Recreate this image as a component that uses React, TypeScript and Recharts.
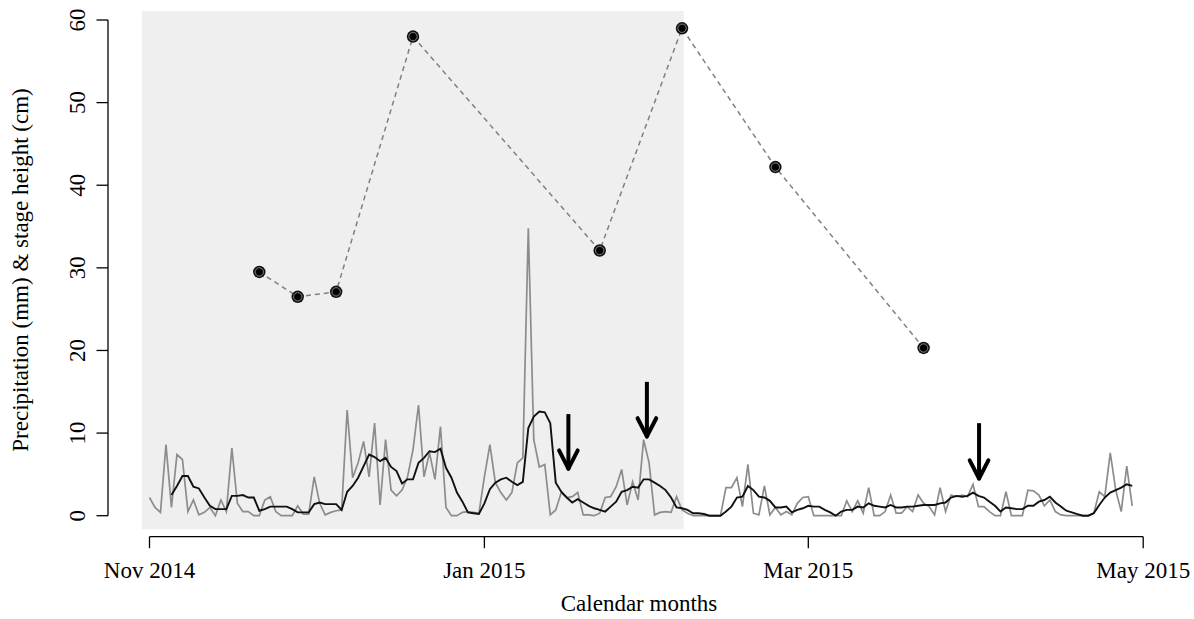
import { ComposedChart, Line, XAxis, YAxis, ReferenceArea, ReferenceLine } from 'recharts'

const FONT = '"Liberation Serif", "Times New Roman", serif'

// daily precipitation (mm), one value per day from 1 Nov 2014
const precipitation = [
  2.2, 1.0, 0.4, 8.6, 1.0, 7.4, 6.8, 0.5, 1.9, 0.1,
  0.4, 1.0, 0, 1.9, 0.5, 8.2, 1.5, 0.5, 0.5, 0,
  0, 1.9, 2.3, 0.5, 0, 0, 0, 1.2, 0.2, 0.2,
  4.7, 1.5, 0.1, 0.4, 0.6, 0.7, 12.8, 4.6, 6.4, 9.0,
  4.7, 11.2, 1.3, 9.2, 3.1, 2.4, 3.1, 4.7, 8.0, 13.4,
  4.7, 7.6, 4.4, 10.8, 1.0, 0, 0, 0.4, 0.5, 0.4,
  0.3, 4.7, 8.6, 4.0, 2.8, 1.9, 2.8, 6.4, 7.0, 34.8,
  9.2, 5.9, 6.2, 0.1, 0.7, 2.8, 2.2, 2.3, 2.8, 0.1,
  0.1, 0, 0.3, 2.2, 2.3, 3.5, 5.6, 1.3, 4.1, 1.9,
  9.2, 6.4, 0.1, 0.4, 0.5, 0.4, 2.3, 0.7, 0.3, 0,
  0, 0, 0, 0, 0, 3.4, 3.4, 4.6, 1.1, 6.2,
  0.3, 0.1, 3.6, 0.1, 1.0, 0.1, 0.5, 0.1, 1.5, 2.2,
  2.3, 0, 0, 0, 0, 0, 0, 1.8, 0.5, 1.8,
  0.3, 3.4, 0, 0, 0.5, 2.5, 0.3, 0.3, 1.1, 0.5,
  2.5, 1.5, 1.1, 0.1, 3.4, 0.5, 2.5, 2.3, 2.5, 2.3,
  3.8, 1.1, 1.1, 0.5, 0, 0, 2.9, 0, 0, 0,
  3.1, 3.0, 2.5, 1.2, 1.9, 0.5, 0.1, 0, 0, 0,
  0, 0, 0.3, 2.9, 2.3, 7.6, 3.1, 0.5, 6.0, 1.2,
]

// smoothed precipitation (black line)
const runningMean = [
  null, null, null, null, 2.5, 3.6, 4.8, 4.8, 3.5, 3.3,
  2.2, 1.2, 0.8, 0.8, 0.8, 2.4, 2.4, 2.5, 2.2, 2.2,
  0.6, 0.8, 1.1, 1.1, 1.1, 1.1, 0.8, 0.4, 0.4, 0.4,
  1.4, 1.6, 1.4, 1.4, 1.4, 0.7, 2.9, 3.6, 4.6, 6.0,
  7.4, 7.1, 6.6, 7.0, 5.9, 5.4, 3.9, 4.4, 4.4, 6.4,
  7.0, 7.8, 7.7, 8.1, 5.8, 4.6, 2.8, 1.7, 0.4, 0.3,
  0.2, 1.5, 3.2, 4.0, 4.4, 4.6, 4.1, 3.7, 4.1, 10.6,
  12.0, 12.6, 12.5, 11.2, 4.0, 2.9, 2.2, 1.6, 2.0, 1.6,
  1.2, 0.9, 0.7, 0.5, 1.1, 1.7, 2.9, 3.1, 3.5, 3.4,
  4.4, 4.4, 4.0, 3.6, 3.1, 2.2, 1.0, 0.9, 0.7, 0.3,
  0.3, 0.2, 0, 0, 0, 0.5, 1.1, 2.2, 2.3, 3.6,
  3.1, 2.3, 2.2, 1.8, 1.0, 1.0, 1.1, 0.4, 0.7, 0.9,
  1.2, 1.1, 1.1, 0.7, 0.4, 0, 0.5, 0.7, 0.7, 1.1,
  1.0, 1.5, 1.2, 1.1, 1.0, 1.3, 1.0, 1.0, 1.1, 1.1,
  1.2, 1.3, 1.3, 1.3, 1.5, 1.6, 2.2, 2.4, 2.3, 2.4,
  2.8, 2.4, 2.2, 1.7, 1.2, 0.5, 1.0, 0.9, 0.8, 0.8,
  1.2, 1.2, 1.7, 1.9, 2.3, 1.6, 1.1, 0.6, 0.4, 0.2,
  0, 0, 0.3, 1.3, 2.2, 2.8, 3.1, 3.4, 3.8, 3.6,
]

// stage height (cm) measurements
const stageDays = [20, 27, 34, 48, 82, 97, 114, 141]
const stageHeight = [29.5, 26.5, 27.1, 58.0, 32.1, 59.0, 42.2, 20.3]

const monthTicks = [0, 61, 120, 181]
const monthLabels = ['Nov 2014', 'Jan 2015', 'Mar 2015', 'May 2015']
const yTicks = [0, 10, 20, 30, 40, 50, 60]

// arrows marking events
const arrowDays = [76.3, 90.6, 151.1]
const arrowTops = [12.3, 16.2, 11.2]
const arrowTips = [5.7, 9.6, 4.5]

// shaded wet season block
const shadeDays = [-1.4, 97.3]
const shadeLevels = [-1.65, 61.1]

const dailyData = precipitation.map((p, i) => ({ day: i, precip: p, mean: runningMean[i] }))
const stageData = stageDays.map((d, i) => ({ day: d, stage: stageHeight[i] }))

const X_AXIS_Y = 536.7
const Y_AXIS_X = 108

function XTick(props: any) {
  const { x, payload } = props
  const label = monthLabels[monthTicks.indexOf(payload.value)]
  return (
    <g>
      <line x1={x} x2={x} y1={X_AXIS_Y} y2={X_AXIS_Y + 11.5} stroke="#000" strokeWidth={1.3} />
      <text x={x} y={578} textAnchor="middle" fontFamily={FONT} fontSize={23} fill="#000">
        {label}
      </text>
    </g>
  )
}

function YTick(props: any) {
  const { y, payload } = props
  return (
    <g>
      <line x1={Y_AXIS_X - 11.5} x2={Y_AXIS_X} y1={y} y2={y} stroke="#000" strokeWidth={1.3} />
      <text transform={`translate(85, ${y}) rotate(-90)`} textAnchor="middle" fontFamily={FONT} fontSize={23} fill="#000">
        {payload.value}
      </text>
    </g>
  )
}

function XTitle() {
  return (
    <text x={639} y={611} textAnchor="middle" fontFamily={FONT} fontSize={23} fill="#000">
      Calendar months
    </text>
  )
}

function YTitle() {
  return (
    <text transform="translate(28, 270) rotate(-90)" textAnchor="middle" fontFamily={FONT} fontSize={23} fill="#000">
      Precipitation (mm) &amp; stage height (cm)
    </text>
  )
}

function StageDot(props: any) {
  const { cx, cy } = props
  if (cx == null || cy == null) return null
  return (
    <g>
      <circle cx={cx} cy={cy} r={6.2} fill="#111" />
      <circle cx={cx} cy={cy} r={4.2} fill="none" stroke="#7a7a7a" strokeWidth={1} />
      <circle cx={cx} cy={cy} r={3} fill="#000" />
    </g>
  )
}

export default function App() {
  return (
    <div style={{ position: 'absolute', left: 0, top: 0, background: '#fff' }}>
      <ComposedChart
        width={1194}
        height={619}
        data={dailyData}
        margin={{ top: 20, right: 50.8, bottom: 43.3, left: 89.5 }}
      >
        <XAxis
          type="number"
          dataKey="day"
          domain={[0, 181]}
          ticks={monthTicks}
          interval={0}
          axisLine={false}
          tickLine={false}
          height={60}
          tick={<XTick />}
          label={<XTitle />}
        />
        <YAxis
          type="number"
          domain={[0, 60]}
          ticks={yTicks}
          interval={0}
          axisLine={false}
          tickLine={false}
          width={60}
          tick={<YTick />}
          label={<YTitle />}
        />
        <ReferenceArea
          x1={shadeDays[0]}
          x2={shadeDays[1]}
          y1={shadeLevels[0]}
          y2={shadeLevels[1]}
          fill="#efefef"
          fillOpacity={1}
          stroke="none"
          ifOverflow="visible"
        />
        {/* axis lines, R style: only between first and last tick */}
        <ReferenceLine
          segment={[{ x: 0, y: -2.54 }, { x: 181, y: -2.54 }]}
          stroke="#000"
          strokeWidth={1.3}
          ifOverflow="visible"
        />
        <ReferenceLine
          segment={[{ x: -7.56, y: 0 }, { x: -7.56, y: 60 }]}
          stroke="#000"
          strokeWidth={1.3}
          ifOverflow="visible"
        />
        <Line
          dataKey="precip"
          type="linear"
          stroke="#8c8c8c"
          strokeWidth={1.7}
          dot={false}
          isAnimationActive={false}
        />
        <Line
          dataKey="mean"
          type="linear"
          stroke="#111"
          strokeWidth={1.9}
          dot={false}
          isAnimationActive={false}
        />
        <Line
          data={stageData}
          dataKey="stage"
          type="linear"
          stroke="#808080"
          strokeWidth={1.5}
          strokeDasharray="5 4"
          dot={<StageDot />}
          isAnimationActive={false}
        />
        {arrowDays.map((d, i) => (
          <ReferenceLine
            key={`shaft-${i}`}
            segment={[{ x: d, y: arrowTops[i] }, { x: d, y: arrowTips[i] }]}
            stroke="#000"
            strokeWidth={4}
          />
        ))}
        {arrowDays.map((d, i) => (
          <ReferenceLine
            key={`headl-${i}`}
            segment={[{ x: d - 1.7, y: arrowTips[i] + 2.2 }, { x: d, y: arrowTips[i] }]}
            stroke="#000"
            strokeWidth={4}
            strokeLinecap="round"
          />
        ))}
        {arrowDays.map((d, i) => (
          <ReferenceLine
            key={`headr-${i}`}
            segment={[{ x: d + 1.7, y: arrowTips[i] + 2.2 }, { x: d, y: arrowTips[i] }]}
            stroke="#000"
            strokeWidth={4}
            strokeLinecap="round"
          />
        ))}
      </ComposedChart>
    </div>
  )
}
